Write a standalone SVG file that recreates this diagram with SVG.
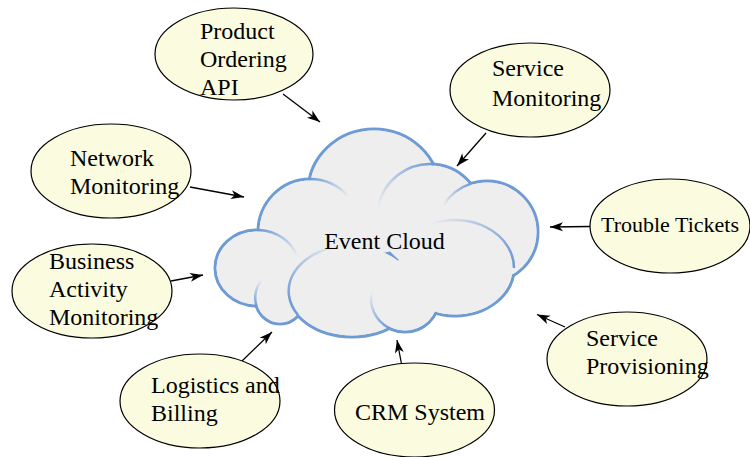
<svg xmlns="http://www.w3.org/2000/svg" width="750" height="457" viewBox="0 0 750 457">
<style>
.node ellipse{fill:#fbfcdf;stroke:#000;stroke-width:1.2}
text{font-family:"Liberation Serif","Times New Roman",serif;font-size:24px;fill:#000}
.edge{stroke:#000;stroke-width:1.3;fill:none;marker-end:url(#ah)}
.cs ellipse{fill:#eeeeee;stroke:#6f9bd4;stroke-width:3}
.cf ellipse{fill:#eeeeee;stroke:none}
.arc{fill:none;stroke-width:2.5}
</style>
<defs>
<marker id="ah" markerUnits="userSpaceOnUse" markerWidth="14" markerHeight="10" refX="13" refY="4.5" orient="auto" overflow="visible">
<path d="M0,0 L13,4.5 L0,9 L3.5,4.5 Z" fill="#000"/>
</marker>
<linearGradient id="g1" gradientUnits="userSpaceOnUse" x1="309" y1="179" x2="350" y2="196"><stop offset="0" stop-color="#6f9bd4"/><stop offset="1" stop-color="#6f9bd4" stop-opacity="0"/></linearGradient>
<linearGradient id="g2" gradientUnits="userSpaceOnUse" x1="434" y1="164" x2="378" y2="208"><stop offset="0" stop-color="#6f9bd4"/><stop offset="1" stop-color="#6f9bd4" stop-opacity="0"/></linearGradient>
<linearGradient id="g3" gradientUnits="userSpaceOnUse" x1="471" y1="184" x2="443" y2="206"><stop offset="0" stop-color="#6f9bd4"/><stop offset="1" stop-color="#6f9bd4" stop-opacity="0"/></linearGradient>
<linearGradient id="g4" gradientUnits="userSpaceOnUse" x1="514" y1="262" x2="430" y2="224"><stop offset="0" stop-color="#6f9bd4"/><stop offset="1" stop-color="#6f9bd4" stop-opacity="0"/></linearGradient>
<linearGradient id="g5" gradientUnits="userSpaceOnUse" x1="292" y1="305" x2="340" y2="247"><stop offset="0" stop-color="#6f9bd4"/><stop offset="1" stop-color="#6f9bd4" stop-opacity="0"/></linearGradient>
<linearGradient id="g6" gradientUnits="userSpaceOnUse" x1="389" y1="328" x2="372" y2="291"><stop offset="0" stop-color="#6f9bd4"/><stop offset="1" stop-color="#6f9bd4" stop-opacity="0"/></linearGradient>
<linearGradient id="g7" gradientUnits="userSpaceOnUse" x1="259" y1="230" x2="298" y2="257"><stop offset="0" stop-color="#6f9bd4"/><stop offset="1" stop-color="#6f9bd4" stop-opacity="0"/></linearGradient>
<linearGradient id="g8" gradientUnits="userSpaceOnUse" x1="256" y1="306" x2="262" y2="280"><stop offset="0" stop-color="#6f9bd4"/><stop offset="1" stop-color="#6f9bd4" stop-opacity="0"/></linearGradient>
</defs>
<rect width="750" height="457" fill="#fff"/>

<g id="event-cloud">
<g class="cs">
<ellipse cx="374" cy="192" rx="66" ry="63"/>
<ellipse cx="310" cy="232" rx="52" ry="53"/>
<ellipse cx="430" cy="218" rx="53" ry="54"/>
<ellipse cx="487" cy="232" rx="51" ry="51"/>
<ellipse cx="455" cy="268" rx="59" ry="48"/>
<ellipse cx="257" cy="268" rx="42" ry="38"/>
<ellipse cx="280" cy="298" rx="25" ry="26"/>
<ellipse cx="352" cy="291" rx="64" ry="46"/>
<ellipse cx="405" cy="299" rx="34" ry="33"/>
</g>
<g class="cf">
<ellipse cx="374" cy="192" rx="64.5" ry="61.5"/>
<ellipse cx="310" cy="232" rx="50.5" ry="51.5"/>
<ellipse cx="430" cy="218" rx="51.5" ry="52.5"/>
<ellipse cx="487" cy="232" rx="49.5" ry="49.5"/>
<ellipse cx="455" cy="268" rx="57.5" ry="46.5"/>
<ellipse cx="257" cy="268" rx="40.5" ry="36.5"/>
<ellipse cx="280" cy="298" rx="23.5" ry="24.5"/>
<ellipse cx="352" cy="291" rx="62.5" ry="44.5"/>
<ellipse cx="405" cy="299" rx="32.5" ry="31.5"/>
</g>
<path class="arc" stroke="url(#g1)" d="M309,179 A52,53 0 0 1 348,196"/>
<path class="arc" stroke="url(#g2)" d="M434,164.2 A53,54 0 0 0 378,207.6"/>
<path class="arc" stroke="url(#g3)" d="M471,183.6 A51,51 0 0 0 443,206"/>
<path class="arc" stroke="url(#g4)" d="M514,268 A59,48 0 0 0 430,224.5"/>
<path class="arc" stroke="url(#g5)" d="M298,315 A64,46 0 0 1 340,246"/>
<path class="arc" stroke="url(#g6)" d="M389,328 A34,33 0 0 1 372,291"/>
<path class="arc" stroke="url(#g7)" d="M259,230 A42,38 0 0 1 297,256.4"/>
<path class="arc" stroke="url(#g8)" d="M256.5,306 A25,26 0 0 1 262,280"/>
<text x="384.5" y="249" text-anchor="middle">Event Cloud</text>
</g>

<g id="connectors">
<path class="edge" d="M283,94 L320,122"/>
<path class="edge" d="M486,133 L457,166"/>
<path class="edge" d="M190,187 L244,197"/>
<path class="edge" d="M590,226.5 L550,227"/>
<path class="edge" d="M171,281 L203,275"/>
<path class="edge" d="M242,361 L272,332"/>
<path class="edge" d="M401.5,364 L397,340"/>
<path class="edge" d="M565,327 L537,314.5"/>
</g>

<g id="product-ordering-api" class="node">
<ellipse cx="234" cy="54" rx="79" ry="46"/>
<text x="200" y="39">Product</text>
<text x="200" y="67">Ordering</text>
<text x="200" y="95">API</text>
</g>
<g id="service-monitoring" class="node">
<ellipse cx="530" cy="90" rx="80" ry="47"/>
<text x="492" y="76">Service</text>
<text x="492" y="106">Monitoring</text>
</g>
<g id="network-monitoring" class="node">
<ellipse cx="111" cy="171" rx="80" ry="47"/>
<text x="70" y="166">Network</text>
<text x="70" y="194">Monitoring</text>
</g>
<g id="trouble-tickets" class="node">
<ellipse cx="670" cy="226" rx="80" ry="47"/>
<text x="601" y="232" style="font-size:22px">Trouble Tickets</text>
</g>
<g id="business-activity-monitoring" class="node">
<ellipse cx="92" cy="291" rx="80" ry="47"/>
<text x="49" y="269">Business</text>
<text x="49" y="297">Activity</text>
<text x="49" y="325">Monitoring</text>
</g>
<g id="logistics-and-billing" class="node">
<ellipse cx="200" cy="401" rx="80" ry="47"/>
<text x="151" y="392.5">Logistics and</text>
<text x="151" y="421">Billing</text>
</g>
<g id="crm-system" class="node">
<ellipse cx="414.5" cy="410" rx="80" ry="47"/>
<text x="355" y="420">CRM System</text>
</g>
<g id="service-provisioning" class="node">
<ellipse cx="627" cy="359" rx="80" ry="47"/>
<text x="586" y="346">Service</text>
<text x="586" y="374">Provisioning</text>
</g>
</svg>
